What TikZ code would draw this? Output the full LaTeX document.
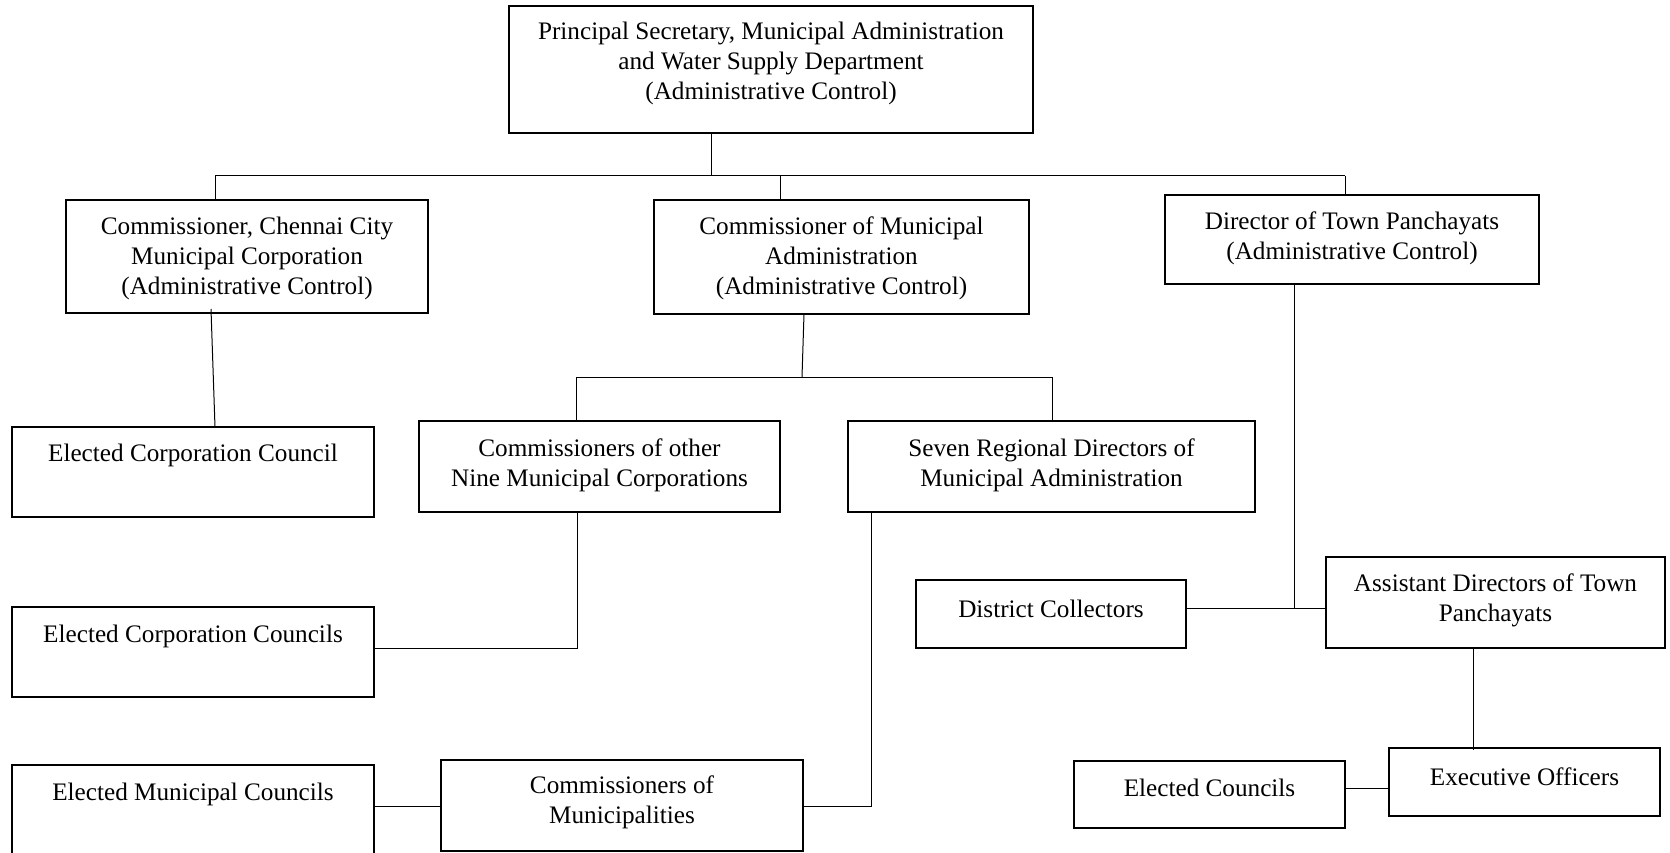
\documentclass[tikz,border=0pt]{standalone}
\usepackage{fontspec}
\setmainfont{Liberation Serif}
\begin{document}
\begin{tikzpicture}[x=1pt,y=-1pt,
  box/.style={draw, line width=1.3pt, inner sep=0pt},
  txt/.style={align=center, inner sep=0pt, font=\fontsize{25.2}{30}\selectfont},
  conn/.style={line width=1pt}]
\useasboundingbox (0,0) rectangle (1670,853);
\clip (0,0) rectangle (1670,853);
\newcommand\mkbox[5]{\node[box, minimum width={#4-#2}, minimum height={#5-#3}] (#1) at ({(#2+#4)/2},{(#3+#5)/2}) {};}
\mkbox{ps}{509}{6}{1033}{133}
\mkbox{ch}{66}{200}{428}{313}
\mkbox{cma}{654}{200}{1029}{314}
\mkbox{dtp}{1165}{195}{1539}{284}
\mkbox{ecc}{12}{427}{374}{517}
\mkbox{con}{419}{421}{780}{512}
\mkbox{srd}{848}{421}{1255}{512}
\mkbox{ecs}{12}{607}{374}{697}
\mkbox{dc}{916}{580}{1186}{648}
\mkbox{ad}{1326}{557}{1665}{648}
\mkbox{eo}{1389}{748}{1660}{816}
\mkbox{ec}{1074}{761}{1345}{828}
\mkbox{com}{441}{760}{803}{851}
\mkbox{emc}{12}{765}{374}{880}
% texts
\node[txt] (tps) at (771,63) {Principal Secretary, Municipal Administration\\and Water Supply Department\\(Administrative Control)};
\node[txt] (tch) at (247,258) {Commissioner, Chennai City\\Municipal Corporation\\(Administrative Control)};
\node[txt] (tcma) at (841.5,258) {Commissioner of Municipal\\Administration\\(Administrative Control)};
\node[txt] (tdtp) at (1352,238) {Director of Town Panchayats\\(Administrative Control)};
\node[txt] (tecc) at (193,455) {Elected Corporation Council};
\node[txt] (tcon) at (599.5,465) {Commissioners of other\\Nine Municipal Corporations};
\node[txt] (tsrd) at (1051.5,465) {Seven Regional Directors of\\Municipal Administration};
\node[txt] (tecs) at (193,636) {Elected Corporation Councils};
\node[txt] (tdc) at (1051,609) {District Collectors};
\node[txt] (tad) at (1495.5,600) {Assistant Directors of Town\\Panchayats};
\node[txt] (teo) at (1524.5,777) {Executive Officers};
\node[txt] (tec) at (1209.5,788) {Elected Councils};
\node[txt] (tcom) at (622,802) {Commissioners of\\Municipalities};
\node[txt] (temc) at (193,794) {Elected Municipal Councils};
% connectors
\coordinate (bus) at (711,176);
\coordinate (busL) at (215,176);
\coordinate (busM) at (780,176);
\coordinate (busR) at (1345,176);
\draw[conn] (ps.south -| bus) -- (bus);
\draw[conn] (busL) -- (busR);
\draw[conn] (busL) -- (busL |- ch.north);
\draw[conn] (busM) -- (busM |- cma.north);
\draw[conn] (busR) -- (busR |- dtp.north);
\coordinate (c1) at (211,309);
\coordinate (c2) at (215,427);
\draw[conn] (c1) -- (c2);
\coordinate (m1) at (804,314);
\coordinate (m2) at (802,377);
\coordinate (b2L) at (576,377);
\coordinate (b2R) at (1052,377);
\draw[conn] (m1) -- (m2);
\draw[conn] (b2L) -- (b2R);
\draw[conn] (b2L) -- (b2L |- con.north);
\draw[conn] (b2R) -- (b2R |- srd.north);
\coordinate (k1) at (577,648);
\draw[conn] (con.south -| k1) -- (k1) -- (ecs.east |- k1);
\coordinate (k2) at (871,806);
\draw[conn] (srd.south -| k2) -- (k2) -- (com.east |- k2);
\draw[conn] (emc.east |- k2) -- (com.west |- k2);
\coordinate (j) at (1294,608);
\draw[conn] (dtp.south -| j) -- (j);
\draw[conn] (dc.east |- j) -- (ad.west |- j);
\coordinate (a1) at (1473,750);
\draw[conn] (ad.south -| a1) -- (a1);
\coordinate (e1) at (1360,788);
\draw[conn] (ec.east |- e1) -- (eo.west |- e1);
\end{tikzpicture}
\end{document}
